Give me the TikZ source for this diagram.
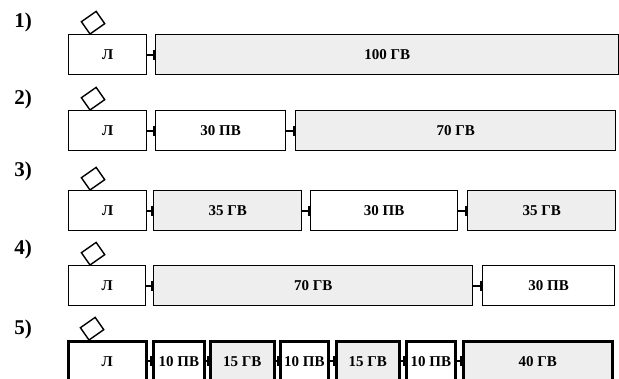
\documentclass[tikz,border=0pt]{standalone}
\usepackage{fontspec}
\setmainfont{Liberation Serif}
\usetikzlibrary{arrows.meta,positioning}

\begin{document}
\begin{tikzpicture}[
    x=1pt,
    y=-1pt,
    every node/.style={font=\fontsize{15}{17}\selectfont\bfseries},
    seg/.style={draw, line width=1.3pt, rectangle, anchor=north west,
        minimum height=40pt, inner sep=0pt},
    pv/.style={seg, fill=white},
    gv/.style={seg, fill=gray!13},
    thk/.style={line width=2.6pt},
    link/.style={line width=2pt, -{Bar[width=10pt,line width=2pt]}},
    tag/.style={draw, line width=1.4pt, rectangle, rotate=35,
        minimum width=18pt, minimum height=15pt, inner sep=0pt,
        outer sep=0pt, anchor=south west},
    num/.style={font=\fontsize{21}{23}\selectfont\bfseries}
]

\useasboundingbox (0,0) rectangle (619,379);

% ---------------------------------------------------------
% 1) 100 GV
% ---------------------------------------------------------

\node[pv, minimum width=78pt]  (l1)  at (68,34)  {Л};
\node[gv, minimum width=463pt] (g11) at (155,34) {100 ГВ};

\draw[link] (l1) -- (g11);

% ---------------------------------------------------------
% 2) 30 PV + 70 GV
% ---------------------------------------------------------

\node[pv, minimum width=78pt]  (l2)  at (68,110)  {Л};
\node[pv, minimum width=130pt] (p21) at (155,110) {30 ПВ};
\node[gv, minimum width=320pt] (g21) at (295,110) {70 ГВ};

\draw[link] (l2) -- (p21);
\draw[link] (p21) -- (g21);

% ---------------------------------------------------------
% 3) 35 GV + 30 PV + 35 GV
% ---------------------------------------------------------

\node[pv, minimum width=78pt]  (l3)  at (68,190)  {Л};
\node[gv, minimum width=148pt] (g31) at (153,190) {35 ГВ};
\node[pv, minimum width=147pt] (p31) at (310,190) {30 ПВ};
\node[gv, minimum width=148pt] (g32) at (467,190) {35 ГВ};

\draw[link] (l3) -- (g31);
\draw[link] (g31) -- (p31);
\draw[link] (p31) -- (g32);

% ---------------------------------------------------------
% 4) 70 GV + 30 PV
% ---------------------------------------------------------

\node[pv, minimum width=77pt]  (l4)  at (68,265)  {Л};
\node[gv, minimum width=319pt] (g41) at (153,265) {70 ГВ};
\node[pv, minimum width=132pt] (p41) at (482,265) {30 ПВ};

\draw[link] (l4) -- (g41);
\draw[link] (g41) -- (p41);

% ---------------------------------------------------------
% 5) alternating blocks, heavier lines
% ---------------------------------------------------------

\node[pv, thk, minimum width=78pt]  (l5)  at (67,340)  {Л};
\node[pv, thk, minimum width=51pt]  (p51) at (152,340) {10 ПВ};
\node[gv, thk, minimum width=64pt]  (g51) at (209,340) {15 ГВ};
\node[pv, thk, minimum width=48pt]  (p52) at (279,340) {10 ПВ};
\node[gv, thk, minimum width=63pt]  (g52) at (335,340) {15 ГВ};
\node[pv, thk, minimum width=49pt]  (p53) at (405,340) {10 ПВ};
\node[gv, thk, minimum width=149pt] (g53) at (462,340) {40 ГВ};

\draw[link] (l5) -- (p51);
\draw[link] (p51) -- (g51);
\draw[link] (g51) -- (p52);
\draw[link] (p52) -- (g52);
\draw[link] (g52) -- (p53);
\draw[link] (p53) -- (g53);

% Markers and row numbers
\foreach \r in {1,...,5}{
    \node[tag] (d\r) at ([xshift=22pt]l\r.north west) {};
}

\foreach \r/\yy in {1/22,2/99,3/171,4/249,5/329}{
    \node[num] (n\r) at (23,\yy) {\r)};
}

\end{tikzpicture}
\end{document}
